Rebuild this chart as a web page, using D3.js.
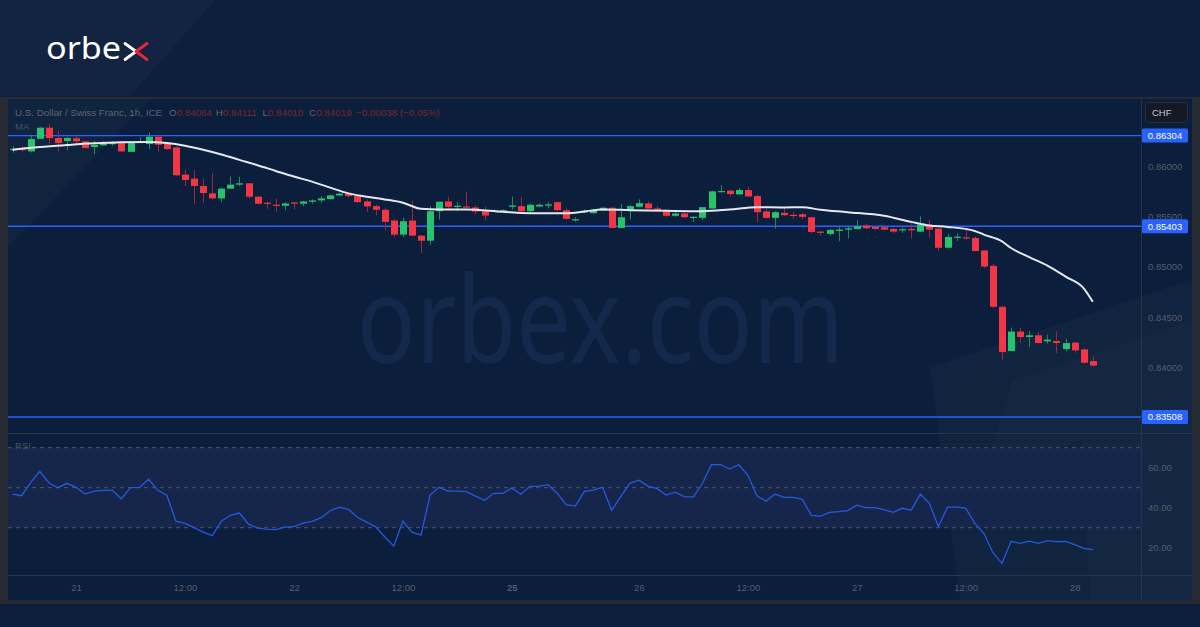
<!DOCTYPE html>
<html>
<head>
<meta charset="utf-8">
<script src="https://cdn.jsdelivr.net/npm/d3@7"></script>
<style>
  html, body { margin: 0; padding: 0; background: #0d1f3d; }
  svg { display: block; }
</style>
</head>
<body>
<svg id="chart"></svg>
<script>
// USD/CHF 1h candles, MA and RSI
const opens = [0.86160,0.86177,0.86147,0.86273,0.86383,0.86280,0.86250,0.86277,0.86247,0.86190,
  0.86207,0.86220,0.86230,0.86143,0.86240,0.86220,0.86293,0.86223,0.86187,0.85917,
  0.85877,0.85803,0.85730,0.85680,0.85777,0.85817,0.85830,0.85697,0.85637,0.85617,
  0.85607,0.85640,0.85627,0.85647,0.85660,0.85673,0.85710,0.85730,0.85703,0.85650,
  0.85603,0.85567,0.85460,0.85320,0.85460,0.85310,0.85260,0.85553,0.85650,0.85597,
  0.85600,0.85590,0.85553,0.85553,0.85553,0.85597,0.85603,0.85553,0.85600,0.85610,
  0.85643,0.85563,0.85463,0.85540,0.85533,0.85560,0.85587,0.85387,0.85560,0.85597,
  0.85630,0.85580,0.85553,0.85507,0.85530,0.85490,0.85487,0.85580,0.85747,0.85757,
  0.85720,0.85763,0.85703,0.85550,0.85487,0.85537,0.85517,0.85523,0.85493,0.85350,
  0.85327,0.85357,0.85370,0.85377,0.85410,0.85397,0.85393,0.85377,0.85363,0.85377,
  0.85350,0.85417,0.85380,0.85190,0.85290,0.85293,0.85287,0.85163,0.85010,0.84603,
  0.84163,0.84357,0.84303,0.84320,0.84260,0.84263,0.84183,0.84247,0.84180,0.84064]
const highs = [0.86197,0.86197,0.86313,0.86390,0.86420,0.86353,0.86287,0.86297,0.86253,0.86253,
  0.86250,0.86250,0.86237,0.86237,0.86287,0.86337,0.86293,0.86237,0.86187,0.85970,
  0.85963,0.85877,0.85930,0.85787,0.85897,0.85897,0.85830,0.85697,0.85653,0.85677,
  0.85643,0.85643,0.85657,0.85670,0.85703,0.85717,0.85737,0.85737,0.85710,0.85670,
  0.85617,0.85587,0.85477,0.85487,0.85660,0.85310,0.85603,0.85647,0.85697,0.85643,
  0.85747,0.85610,0.85597,0.85570,0.85570,0.85697,0.85697,0.85627,0.85630,0.85643,
  0.85650,0.85577,0.85493,0.85570,0.85577,0.85597,0.85597,0.85627,0.85610,0.85670,
  0.85653,0.85603,0.85570,0.85543,0.85537,0.85503,0.85593,0.85757,0.85810,0.85763,
  0.85783,0.85797,0.85720,0.85577,0.85553,0.85597,0.85547,0.85537,0.85493,0.85353,
  0.85377,0.85410,0.85400,0.85463,0.85430,0.85403,0.85410,0.85383,0.85390,0.85453,
  0.85503,0.85470,0.85380,0.85327,0.85333,0.85370,0.85303,0.85170,0.85030,0.84610,
  0.84397,0.84397,0.84363,0.84350,0.84327,0.84360,0.84287,0.84253,0.84187,0.84111]
const lows = [0.86133,0.86137,0.86137,0.86270,0.86220,0.86147,0.86160,0.86220,0.86177,0.86120,
  0.86203,0.86203,0.86143,0.86140,0.86230,0.86170,0.86143,0.86163,0.85903,0.85803,
  0.85627,0.85637,0.85670,0.85643,0.85777,0.85803,0.85677,0.85620,0.85577,0.85547,
  0.85563,0.85570,0.85603,0.85627,0.85630,0.85670,0.85703,0.85687,0.85637,0.85543,
  0.85510,0.85360,0.85297,0.85297,0.85303,0.85137,0.85220,0.85470,0.85570,0.85553,
  0.85593,0.85523,0.85463,0.85543,0.85547,0.85570,0.85527,0.85530,0.85593,0.85580,
  0.85557,0.85470,0.85447,0.85533,0.85530,0.85553,0.85387,0.85387,0.85470,0.85597,
  0.85580,0.85553,0.85497,0.85497,0.85487,0.85447,0.85463,0.85580,0.85743,0.85697,
  0.85717,0.85693,0.85443,0.85480,0.85380,0.85503,0.85477,0.85470,0.85333,0.85310,
  0.85310,0.85253,0.85280,0.85370,0.85377,0.85363,0.85363,0.85337,0.85337,0.85283,
  0.85347,0.85287,0.85157,0.85183,0.85257,0.85270,0.85153,0.84987,0.84593,0.84077,
  0.84163,0.84243,0.84203,0.84237,0.84237,0.84143,0.84163,0.84147,0.84043,0.84010]
const closes = [0.86173,0.86160,0.86270,0.86383,0.86280,0.86230,0.86280,0.86247,0.86180,0.86213,
  0.86230,0.86230,0.86147,0.86230,0.86250,0.86293,0.86213,0.86170,0.85910,0.85863,
  0.85803,0.85733,0.85680,0.85777,0.85817,0.85830,0.85697,0.85627,0.85627,0.85607,
  0.85630,0.85633,0.85650,0.85660,0.85680,0.85710,0.85727,0.85703,0.85643,0.85600,
  0.85567,0.85447,0.85320,0.85453,0.85310,0.85260,0.85553,0.85647,0.85597,0.85607,
  0.85593,0.85550,0.85510,0.85563,0.85563,0.85610,0.85553,0.85617,0.85617,0.85620,
  0.85563,0.85477,0.85473,0.85557,0.85567,0.85587,0.85387,0.85493,0.85603,0.85633,
  0.85580,0.85567,0.85507,0.85530,0.85493,0.85497,0.85593,0.85750,0.85753,0.85723,
  0.85763,0.85700,0.85543,0.85487,0.85543,0.85513,0.85510,0.85497,0.85347,0.85340,
  0.85367,0.85370,0.85383,0.85403,0.85383,0.85377,0.85370,0.85350,0.85373,0.85363,
  0.85420,0.85370,0.85190,0.85297,0.85300,0.85283,0.85157,0.85003,0.84603,0.84153,
  0.84357,0.84303,0.84320,0.84243,0.84277,0.84243,0.84243,0.84170,0.84047,0.84019]

// moving average, read at sample bars
const maIdx = [0,3,6,9,12,15,17,19,21,23,25,27,29,31,33,35,37,39,41,43,45,47,50,54,57,61,63,65,68,72,76,79,82,85,87,89,92,96,99,101,103,106,107,109,110,112,114,116,118,119]
const maVal = [0.86163,0.86190,0.86210,0.86227,0.86237,0.86240,0.86230,0.86203,0.86163,0.86117,
  0.86063,0.86010,0.85953,0.85897,0.85847,0.85787,0.85730,0.85697,0.85670,0.85637,
  0.85577,0.85570,0.85570,0.85547,0.85533,0.85533,0.85550,0.85570,0.85563,0.85557,
  0.85553,0.85570,0.85593,0.85590,0.85593,0.85567,0.85543,0.85507,0.85447,0.85410,
  0.85397,0.85357,0.85320,0.85253,0.85187,0.85097,0.85013,0.84903,0.84787,0.84653]

// RSI per bar
const rsiVals = [46.8,46.0,52.5,58.2,52.5,50.0,52.2,50.2,46.8,48.3,
  48.7,48.7,44.5,50.0,50.2,54.2,48.7,46.2,33.3,32.2,
  30.0,27.8,26.0,33.3,36.2,37.3,31.8,29.8,29.3,29.0,
  30.3,30.5,32.3,33.2,35.0,38.5,40.3,39.2,35.2,32.8,
  30.5,25.5,20.8,33.3,27.8,26.3,46.3,50.2,48.3,48.3,
  48.0,45.8,43.7,47.2,47.2,49.8,46.7,50.7,50.8,51.5,
  47.2,41.5,40.8,48.2,48.8,50.2,38.7,45.5,52.2,53.8,
  50.8,49.5,46.3,47.8,45.5,45.3,52.2,61.5,61.5,59.3,
  61.5,56.3,46.0,43.3,46.8,45.2,45.2,44.2,36.2,35.8,
  37.7,38.0,38.5,41.3,40.0,40.0,39.0,37.7,39.7,38.8,
  46.8,42.2,30.5,40.3,40.3,39.8,32.2,27.2,17.5,12.2,
  23.2,22.2,23.3,22.2,23.5,23.0,23.2,21.5,19.7,19.0]

const levels = [0.86304, 0.85403, 0.83508]
const priceTicks = [0.84, 0.845, 0.85, 0.855, 0.86]
const rsiTicks = [20, 40, 60]
const rsiBands = [30, 50, 70]
const timeTickIdx = [7, 19, 31, 43, 55, 69, 81, 93, 105, 117]
const timeTickLabels = ['21', '12:00', '22', '12:00', '25', '26', '12:00', '27', '12:00', '28']

const width = 1200
const height = 627
const pane = { left: 8, right: 1141, top: 99, bottom: 433 }
const rsiPane = { top: 434, bottom: 575 }

const outerBg = '#0d1f3d'
const chartBg = '#0b1e3b'
const frameColour = '#262a33'
const sepColour = '#2b3346'
const upColour = '#27c46e'
const downColour = '#f23645'
const upWick = '#1f8a55'
const downWick = '#9b2738'
const levelColour = '#2962ff'
const axisText = '#555d6e'
const font = '"Liberation Sans", Arial, sans-serif'

const svg = d3.select('#chart').attr('width', width).attr('height', height)

/// Scales ///
const x = d3.scaleLinear().domain([0, 119]).range([12.5, 12.5 + 9.078 * 119])
const y = d3.scaleLinear().domain([0.84, 0.86]).range([367.5, 166.2])
const yR = d3.scaleLinear().domain([20, 60]).range([547.7, 467.7])

/// Background + frame ///
svg.append('rect').attr('width', width).attr('height', height).attr('fill', outerBg)
svg.append('polygon').attr('points', '0,0 215,0 130,96 0,96').attr('fill', '#ffffff').attr('opacity', 0.025)
svg.append('rect').attr('x', 0).attr('y', 97).attr('width', width).attr('height', 507).attr('fill', frameColour)
svg.append('rect').attr('x', 8).attr('y', 99).attr('width', 1184).attr('height', 501).attr('fill', chartBg)

// light streaks over the chart
const streaks = svg.append('g').attr('fill', '#ffffff')
streaks.append('polygon').attr('points', '8,99 150,99 8,247').attr('opacity', 0.025)
streaks.append('polygon').attr('points', '930,368 1192,279 1192,600 960,600').attr('opacity', 0.025)
streaks.append('polygon').attr('points', '1012,381 1192,320 1192,600 1090,600 1082,440 985,470').attr('opacity', 0.02)

// watermark
svg.append('text')
  .attr('x', 357).attr('y', 363)
  .attr('textLength', 487).attr('lengthAdjust', 'spacingAndGlyphs')
  .attr('font-family', '"Noto Sans", "Open Sans", sans-serif')
  .attr('font-weight', 400)
  .attr('font-size', 120)
  .attr('fill', '#13284a')
  .text('orbex.com')

/// Separators ///
const seps = svg.append('g').attr('stroke', sepColour).attr('stroke-width', 1)
seps.append('line').attr('x1', 1141.5).attr('x2', 1141.5).attr('y1', 99).attr('y2', 600)
seps.append('line').attr('x1', 8).attr('x2', 1192).attr('y1', 433.5).attr('y2', 433.5)
seps.append('line').attr('x1', 8).attr('x2', 1192).attr('y1', 575.5).attr('y2', 575.5)

/// Clip paths ///
const defs = svg.append('defs')
defs.append('clipPath').attr('id', 'clip-price').append('rect')
  .attr('x', pane.left).attr('y', pane.top).attr('width', pane.right - pane.left).attr('height', pane.bottom - pane.top)
defs.append('clipPath').attr('id', 'clip-rsi').append('rect')
  .attr('x', pane.left).attr('y', rsiPane.top).attr('width', pane.right - pane.left).attr('height', rsiPane.bottom - rsiPane.top)

/// RSI pane ///
const rsiG = svg.append('g').attr('clip-path', 'url(#clip-rsi)')
rsiG.append('rect')
  .attr('x', pane.left).attr('width', pane.right - pane.left)
  .attr('y', yR(70)).attr('height', yR(30) - yR(70))
  .attr('fill', '#16264b')
rsiG.selectAll('.band').data(rsiBands).join('line')
  .classed('band', true)
  .attr('x1', pane.left).attr('x2', pane.right)
  .attr('y1', d => yR(d)).attr('y2', d => yR(d))
  .attr('stroke', '#5d6478').attr('stroke-dasharray', '4 4').attr('opacity', 0.8)
rsiG.append('path')
  .datum(rsiVals)
  .attr('fill', 'none')
  .attr('stroke', '#2559e0')
  .attr('stroke-width', 1.3)
  .attr('d', d3.line().x((d, i) => x(i)).y(d => yR(d)))
svg.append('text').attr('x', 15).attr('y', 449)
  .attr('font-family', font).attr('font-size', 9.5).attr('fill', '#4a5264').text('RSI')

/// Price pane ///
const priceG = svg.append('g').attr('clip-path', 'url(#clip-price)')

priceG.selectAll('.level').data(levels).join('line')
  .classed('level', true)
  .attr('x1', pane.left).attr('x2', pane.right)
  .attr('y1', d => y(d)).attr('y2', d => y(d))
  .attr('stroke', levelColour).attr('stroke-width', 1.4)

const bars = d3.range(opens.length)
priceG.selectAll('.wick').data(bars).join('line')
  .classed('wick', true)
  .attr('x1', i => Math.round(x(i)) + 0.5).attr('x2', i => Math.round(x(i)) + 0.5)
  .attr('y1', i => y(highs[i])).attr('y2', i => y(lows[i]))
  .attr('stroke', i => closes[i] >= opens[i] ? upWick : downWick)
  .attr('stroke-width', 1)

priceG.selectAll('.body').data(bars).join('rect')
  .classed('body', true)
  .attr('x', i => Math.round(x(i)) - 3)
  .attr('width', 7)
  .attr('y', i => y(Math.max(opens[i], closes[i])))
  .attr('height', i => Math.max(1.2, Math.abs(y(opens[i]) - y(closes[i]))))
  .attr('fill', i => closes[i] >= opens[i] ? upColour : downColour)

priceG.append('path')
  .datum(maIdx.map((d, i) => [d, maVal[i]]))
  .attr('fill', 'none')
  .attr('stroke', '#e6e8ee')
  .attr('stroke-width', 2)
  .attr('d', d3.line().x(d => x(d[0])).y(d => y(d[1])).curve(d3.curveMonotoneX))

/// Axes ///
const priceAxis = svg.append('g')
  .attr('transform', 'translate(1142,0)')
  .call(d3.axisRight(y).tickValues(priceTicks).tickSize(0).tickPadding(6).tickFormat(d3.format('.5f')))
priceAxis.select('.domain').remove()
priceAxis.selectAll('text').attr('font-family', font).attr('font-size', 9.5).attr('fill', axisText)

const rsiAxis = svg.append('g')
  .attr('transform', 'translate(1142,0)')
  .call(d3.axisRight(yR).tickValues(rsiTicks).tickSize(0).tickPadding(6).tickFormat(d3.format('.2f')))
rsiAxis.select('.domain').remove()
rsiAxis.selectAll('text').attr('font-family', font).attr('font-size', 9.5).attr('fill', axisText)

const timeAxis = svg.append('g')
  .attr('transform', 'translate(0,576)')
  .call(d3.axisBottom(x).tickValues(timeTickIdx).tickSize(0).tickPadding(8).tickFormat((d, i) => timeTickLabels[i]))
timeAxis.select('.domain').remove()
timeAxis.selectAll('text')
  .attr('font-family', font).attr('font-size', 9.5).attr('fill', axisText)
  .attr('font-weight', (d, i) => timeTickLabels[i] === '25' ? 'bold' : 'normal')

// level price tags
const tags = svg.selectAll('.tag').data(levels).join('g')
  .classed('tag', true)
  .attr('transform', d => `translate(1142,${y(d)})`)
tags.append('rect').attr('x', 0).attr('y', -7).attr('width', 46).attr('height', 14).attr('rx', 1.5).attr('fill', levelColour)
tags.append('text').attr('x', 23).attr('y', 0).attr('dy', '0.35em').attr('text-anchor', 'middle')
  .attr('font-family', font).attr('font-size', 9.5).attr('fill', '#ffffff')
  .text(d => d3.format('.5f')(d))

// currency box
svg.append('rect').attr('x', 1145.5).attr('y', 102.5).attr('width', 42).attr('height', 20).attr('rx', 3)
  .attr('fill', '#141925').attr('stroke', '#2a2e39')
svg.append('text').attr('x', 1152).attr('y', 116).attr('font-family', font).attr('font-size', 9.5)
  .attr('fill', '#c9ccd4').text('CHF')

/// Header legend ///
const header = svg.append('text').attr('x', 15).attr('y', 115.5)
  .attr('font-family', font).attr('font-size', 9.8).attr('fill', '#5f6674')
header.append('tspan').text('U.S. Dollar / Swiss Franc, 1h, ICE')
const ohlc = [['O', '0.84064'], ['H', '0.84111'], ['L', '0.84010'], ['C', '0.84019']]
ohlc.forEach((d, i) => {
  header.append('tspan').attr('x', 169 + i * 46.7).text(d[0])
  header.append('tspan').attr('fill', '#7b2633').text(d[1])
})
header.append('tspan').attr('x', 356).attr('fill', '#7b2633').text('\u22120.00038 (\u22120.05%)')
svg.append('text').attr('x', 15).attr('y', 130).attr('font-family', font).attr('font-size', 9.5)
  .attr('fill', '#4a5264').text('MA')

/// Logo ///
const logo = svg.append('g')
logo.append('text').attr('x', 46).attr('y', 59.3)
  .attr('textLength', 75).attr('lengthAdjust', 'spacingAndGlyphs')
  .attr('font-family', '"Noto Sans", "Open Sans", sans-serif').attr('font-size', 30).attr('font-weight', 400)
  .attr('fill', '#ffffff').text('orbe')
logo.append('path').attr('d', 'M125,43.5 L136,51.5 L125,59.5')
  .attr('fill', 'none').attr('stroke', '#ffffff').attr('stroke-width', 2.8).attr('stroke-linecap', 'round').attr('stroke-linejoin', 'round')
logo.append('path').attr('d', 'M147,43.5 L136,51.5 L147,59.5')
  .attr('fill', 'none').attr('stroke', '#e8253c').attr('stroke-width', 2.8).attr('stroke-linecap', 'round').attr('stroke-linejoin', 'round')
</script>
</body>
</html>
